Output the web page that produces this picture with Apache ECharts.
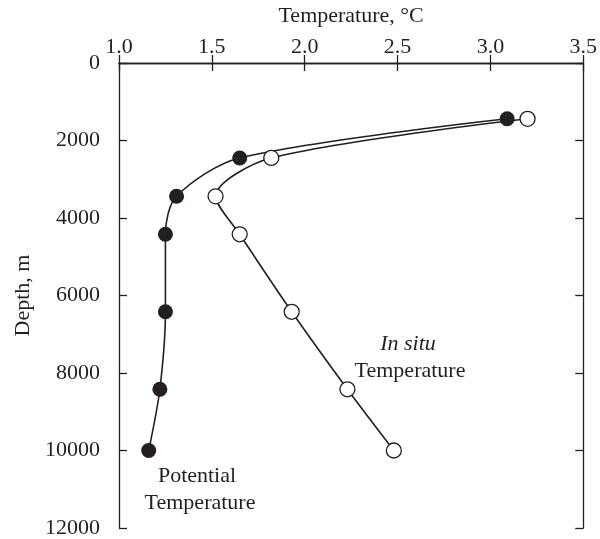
<!DOCTYPE html>
<html>
<head>
<meta charset="utf-8">
<script src="https://cdn.jsdelivr.net/npm/echarts@6/dist/echarts.min.js"></script>
<style>
html,body{margin:0;padding:0;background:#fff;}
#chart{width:600px;height:539px;}
</style>
</head>
<body>
<div id="chart"></div>
<script>
// Data
var depths = [1440, 2450, 3440, 4420, 6420, 8420, 10000];
var potentialTemp = [3.09, 1.65, 1.31, 1.25, 1.25, 1.22, 1.16];
var inSituTemp = [3.20, 1.82, 1.52, 1.65, 1.93, 2.23, 2.48];
var tempTicks = [1.0, 1.5, 2.0, 2.5, 3.0, 3.5];
var depthTicks = [0, 2000, 4000, 6000, 8000, 10000, 12000];

var INK = '#231f20';
var FONT = 'Liberation Serif';
var FS = 22;

function pairs(xs, ys) { return xs.map(function (x, i) { return [x, ys[i]]; }); }

var axisLineStyle = { color: INK, width: 1.3 };
var chart = echarts.init(document.getElementById('chart'));
chart.setOption({
  animation: false,
  backgroundColor: '#fff',
  grid: { left: 119, top: 63, right: 16, bottom: 10, containLabel: false },
  xAxis: [
    {
      type: 'value', position: 'top',
      min: tempTicks[0], max: tempTicks[tempTicks.length - 1], interval: 0.5,
      name: 'Temperature, °C', nameLocation: 'middle', nameGap: 36,
      nameTextStyle: { fontFamily: FONT, fontSize: FS, color: INK },
      axisLine: { show: true, lineStyle: axisLineStyle },
      axisTick: { show: true, inside: true, length: 8, lineStyle: axisLineStyle },
      axisLabel: { show: true, margin: 5, fontFamily: FONT, fontSize: FS, color: INK, showMinLabel: true, showMaxLabel: true,
        formatter: function (v) { return v.toFixed(1); } },
      splitLine: { show: false }
    },
    {
      type: 'value', position: 'bottom',
      min: tempTicks[0], max: tempTicks[tempTicks.length - 1], interval: 0.5,
      axisLine: { show: true, lineStyle: axisLineStyle },
      axisTick: { show: true, inside: true, length: 8, lineStyle: axisLineStyle },
      axisLabel: { show: false },
      splitLine: { show: false }
    }
  ],
  yAxis: [
    {
      type: 'value', position: 'left', inverse: true,
      min: depthTicks[0], max: depthTicks[depthTicks.length - 1], interval: 2000,
      name: 'Depth, m', nameLocation: 'middle', nameGap: 84, nameRotate: 90,
      nameTextStyle: { fontFamily: FONT, fontSize: FS, color: INK },
      axisLine: { show: true, lineStyle: axisLineStyle },
      axisTick: { show: true, inside: true, length: 8, lineStyle: axisLineStyle },
      axisLabel: { show: true, margin: 19, fontFamily: FONT, fontSize: FS, color: INK, showMinLabel: true, showMaxLabel: true,
        formatter: function (v) { return String(v); } },
      splitLine: { show: false }
    },
    {
      type: 'value', position: 'right', inverse: true,
      min: depthTicks[0], max: depthTicks[depthTicks.length - 1], interval: 2000,
      axisLine: { show: true, lineStyle: axisLineStyle },
      axisTick: { show: true, inside: true, length: 8, lineStyle: axisLineStyle },
      axisLabel: { show: false },
      splitLine: { show: false }
    }
  ],
  series: [
    {
      name: 'In situ Temperature', type: 'line',
      xAxisIndex: 0, yAxisIndex: 0,
      data: pairs(inSituTemp, depths),
      smooth: 0.3,
      symbol: 'circle', symbolSize: 15,
      lineStyle: { color: INK, width: 1.6 },
      itemStyle: { color: '#ffffff', borderColor: INK, borderWidth: 1.3 }
    },
    {
      name: 'Potential Temperature', type: 'line',
      xAxisIndex: 0, yAxisIndex: 0,
      data: pairs(potentialTemp, depths),
      smooth: 0.3,
      symbol: 'circle', symbolSize: 15,
      lineStyle: { color: INK, width: 1.6 },
      itemStyle: { color: INK, borderColor: INK, borderWidth: 0 }
    }
  ],
  graphic: [
    { type: 'text', x: 197, y: 476, style: { text: 'Potential', font: FS + 'px "' + FONT + '"', fill: INK, align: 'center', verticalAlign: 'middle' } },
    { type: 'text', x: 200, y: 503, style: { text: 'Temperature', font: FS + 'px "' + FONT + '"', fill: INK, align: 'center', verticalAlign: 'middle' } },
    { type: 'text', x: 408, y: 344, style: { text: 'In situ', font: 'italic ' + FS + 'px "' + FONT + '"', fill: INK, align: 'center', verticalAlign: 'middle' } },
    { type: 'text', x: 410, y: 371, style: { text: 'Temperature', font: FS + 'px "' + FONT + '"', fill: INK, align: 'center', verticalAlign: 'middle' } }
  ]
});
</script>
</body>
</html>
